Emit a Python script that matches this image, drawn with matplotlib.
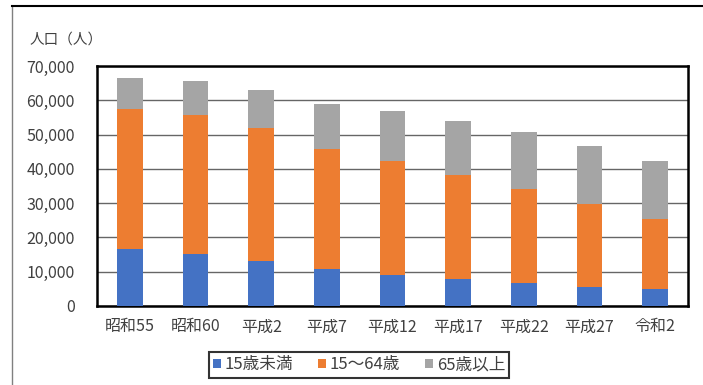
import matplotlib
matplotlib.use("Agg")
import matplotlib.pyplot as plt
import matplotlib.ticker as ticker
from matplotlib.lines import Line2D
import numpy as np

plt.rcParams['font.family'] = ['Noto Sans CJK JP', 'DejaVu Sans']

years = ["昭和55", "昭和60", "平成2", "平成7", "平成12", "平成17", "平成22", "平成27", "令和2"]
under15 = [16540, 15170, 13220, 10790, 9040, 7780, 6710, 5640, 4960]
age15_64 = [40830, 40540, 38600, 35000, 33250, 30520, 27415, 24110, 20320]
over65 = [9220, 9915, 11180, 13220, 14680, 15660, 16525, 16820, 17110]
series_names = ["15歳未満", "15～64歳", "65歳以上"]
colors = ["#4472C4", "#ED7D31", "#A5A5A5"]

W, H = 703, 385
fig = plt.figure(figsize=(W / 100, H / 100), dpi=100)
ax = fig.add_axes([97 / W, 1 - 306 / H, (688 - 97) / W, (306 - 66) / H])

x = np.arange(len(years))
bottom = np.zeros(len(years))
handles = []
for vals, name, c in zip([under15, age15_64, over65], series_names, colors):
    b = ax.bar(x, vals, width=0.39, bottom=bottom, color=c, label=name, zorder=3)
    bottom += np.array(vals)
    handles.append(b)

ax.set_xlim(-0.5, len(years) - 0.5)
ax.set_ylim(0, 70000)
ax.yaxis.set_major_locator(ticker.MultipleLocator(10000))
ax.yaxis.set_major_formatter(ticker.FuncFormatter(lambda v, p: "{:,.0f}".format(v)))
ax.set_xticks(x)
ax.set_xticklabels(years)
ax.tick_params(axis='y', length=0, pad=16, labelsize=11.5, labelcolor="#404040")
ax.tick_params(axis='x', length=0, pad=9, labelsize=11.5, labelcolor="#404040")
ax.grid(axis='y', color="#666666", linewidth=1.0, zorder=0)
ax.set_axisbelow(True)
for s in ax.spines.values():
    s.set_color("black")
    s.set_linewidth(1.8)

fig.text(30 / W, 1 - 40 / H, "人口（人）", fontsize=10.5, color="#404040", va="center", ha="left")

leg = fig.legend(handles=handles, labels=series_names, loc="center",
                 bbox_to_anchor=(359 / W, 1 - 365 / H), ncol=3, fontsize=12,
                 frameon=True, fancybox=False, edgecolor="black",
                 handlelength=0.5, handleheight=0.5, handletextpad=0.2,
                 columnspacing=1.5, borderpad=0.25)
leg.get_frame().set_linewidth(1.5)
for t in leg.get_texts():
    t.set_color("#404040")

# outer frame: left and top edges
fig.add_artist(Line2D([12 / W, 12 / W], [0, 1 - 6 / H], transform=fig.transFigure,
                      color="#808080", linewidth=1.0))
fig.add_artist(Line2D([12 / W, 1], [1 - 6 / H, 1 - 6 / H], transform=fig.transFigure,
                      color="black", linewidth=1.5))

fig.savefig("out.png", dpi=100)
